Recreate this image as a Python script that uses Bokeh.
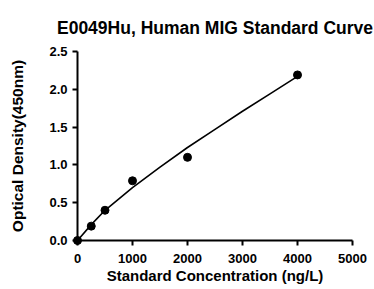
from bokeh.plotting import figure
from bokeh.models import Range1d, FixedTicker
from bokeh.embed import file_html
from bokeh.resources import INLINE

# Data
conc = [0, 250, 500, 1000, 2000, 4000]
od = [0.0, 0.19, 0.40, 0.79, 1.10, 2.19]

# Fitted curve
fit_x = [0, 250, 500, 1000, 1500, 2000, 2500, 3000, 3500, 4000]
fit_y = [0.0, 0.21, 0.40, 0.70, 0.97, 1.23, 1.47, 1.71, 1.94, 2.17]

x_ticks = [0, 1000, 2000, 3000, 4000, 5000]
y_ticks = [0.0, 0.5, 1.0, 1.5, 2.0, 2.5]

FONT = "Liberation Sans"

p = figure(width=374, height=289, output_backend="svg", toolbar_location=None,
           x_range=Range1d(0, 5000), y_range=Range1d(0, 2.5),
           min_border_left=77, min_border_right=22, min_border_top=51, min_border_bottom=49)

p.title.text = "E0049Hu, Human MIG Standard Curve"
p.title.align = "center"
p.title.text_font = FONT
p.title.text_font_size = "17.5px"
p.title.text_font_style = "bold"
p.title.text_color = "black"
p.title.standoff = 27

p.grid.visible = False
p.outline_line_color = None

for ax in (p.xaxis, p.yaxis):
    ax.axis_line_width = 2
    ax.axis_line_color = "black"
    ax.major_tick_line_width = 2
    ax.major_tick_line_color = "black"
    ax.major_tick_out = 5
    ax.major_tick_in = 0
    ax.minor_tick_line_color = None
    ax.major_label_text_font = FONT
    ax.major_label_text_font_size = "13px"
    ax.major_label_text_font_style = "bold"
    ax.major_label_text_color = "black"
    ax.axis_label_text_font = FONT
    ax.axis_label_text_font_style = "bold"
    ax.axis_label_text_color = "black"

p.xaxis.axis_label_text_font_size = "15px"
p.yaxis.axis_label_text_font_size = "15.5px"

p.xaxis.ticker = FixedTicker(ticks=x_ticks)
p.yaxis.ticker = FixedTicker(ticks=y_ticks)
p.yaxis.major_label_overrides = {t: f"{t:.1f}" for t in y_ticks}
p.xaxis.major_label_overrides = {t: str(t) for t in x_ticks}
p.xaxis.axis_label = "Standard Concentration (ng/L)"
p.yaxis.axis_label = "Optical Density(450nm)"
p.xaxis.major_label_standoff = 8
p.yaxis.major_label_standoff = 5
p.xaxis.axis_label_standoff = 1
p.yaxis.axis_label_standoff = 20

p.line(fit_x, fit_y, line_color="black", line_width=1.6, level="overlay")
p.scatter(conc, od, size=8, marker="circle", fill_color="black", line_color="black", level="overlay")

open("out.html", "w").write(file_html(p, INLINE))
